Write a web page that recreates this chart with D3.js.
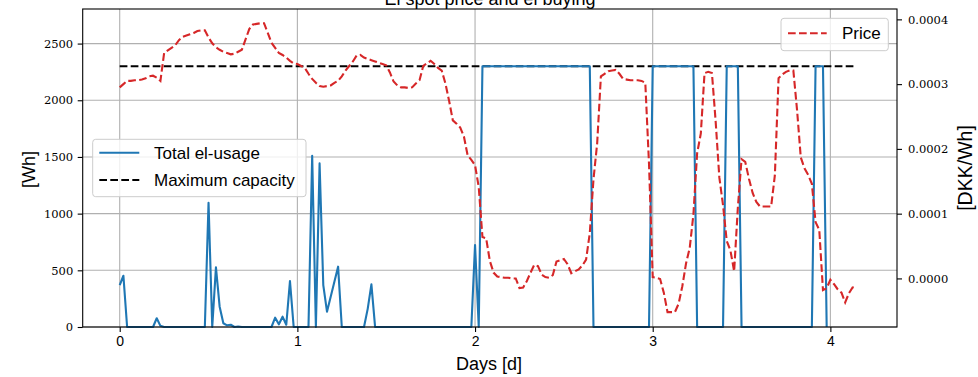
<!DOCTYPE html>
<html>
<head>
<meta charset="utf-8">
<script src="https://cdn.jsdelivr.net/npm/d3@7"></script>
<style>
  body { margin: 0; background: #fff; }
  svg { display: block; }
</style>
</head>
<body>
<div id="chart"></div>
<script>
// half-hour samples, x in days
const STEP_DAYS = 1 / 48;

// Total el-usage [Wh]
const usage = [
  370, 452, 0, 0, 0, 0, 0, 0, 0, 0,
  77, 10, 0, 0, 0, 0, 0, 0, 0, 0,
  0, 0, 0, 0, 1096, 0, 526, 179, 33, 15,
  20, 0, 5, 0, 0, 0, 0, 0, 0, 0,
  0, 0, 82, 24, 91, 20, 405, 0, 0, 0,
  0, 0, 1511, 0, 1443, 370, 135, 267, 400, 532,
  0, 0, 0, 0, 0, 0, 0, 160, 376, 0,
  0, 0, 0, 0, 0, 0, 0, 0, 0, 0,
  0, 0, 0, 0, 0, 0, 0, 0, 0, 0,
  0, 0, 0, 0, 0, 0, 723, 0, 2300, 2300,
  2300, 2300, 2300, 2300, 2300, 2300, 2300, 2300, 2300, 2300,
  2300, 2300, 2300, 2300, 2300, 2300, 2300, 2300, 2300, 2300,
  2300, 2300, 2300, 2300, 2300, 2300, 2300, 2300, 0, 0,
  0, 0, 0, 0, 0, 0, 0, 0, 0, 0,
  0, 0, 0, 0, 2300, 2300, 2300, 2300, 2300, 2300,
  2300, 2300, 2300, 2300, 2300, 2300, 0, 0, 0, 0,
  0, 0, 0, 0, 2300, 2300, 2300, 2300, 0, 0,
  0, 0, 0, 0, 0, 0, 0, 0, 0, 0,
  0, 0, 0, 0, 0, 0, 0, 0, 2300, 2300,
  2300, 0
];

// Spot price, in units of 1e-4 DKK/Wh
const price = [
  2.95, 3.00, 3.05, 3.05, 3.06, 3.06, 3.07, 3.09, 3.12, 3.13,
  3.10, 3.05, 3.48, 3.52, 3.56, 3.60, 3.68, 3.73, 3.75, 3.77,
  3.79, 3.82, 3.83, 3.83, 3.72, 3.63, 3.57, 3.53, 3.50, 3.48,
  3.46, 3.47, 3.50, 3.53, 3.69, 3.85, 3.92, 3.93, 3.94, 3.94,
  3.79, 3.64, 3.56, 3.48, 3.45, 3.41, 3.36, 3.32, 3.31, 3.28,
  3.25, 3.16, 3.08, 3.02, 2.97, 2.96, 2.97, 2.98, 3.02, 3.05,
  3.12, 3.21, 3.28, 3.35, 3.44, 3.45, 3.41, 3.39, 3.37, 3.35,
  3.33, 3.31, 3.29, 3.18, 3.04, 2.98, 2.95, 2.95, 2.94, 2.95,
  3.01, 3.06, 3.28, 3.32, 3.36, 3.31, 3.25, 3.21, 3.01, 2.74,
  2.44, 2.39, 2.33, 2.19, 1.90, 1.83, 1.75, 1.41, 0.64, 0.62,
  0.27, 0.09, 0.03, 0.02, 0.01, 0.01, 0.00, 0.00, -0.15, -0.14,
  -0.04, 0.09, 0.21, 0.19, 0.06, 0.02, 0.01, 0.05, 0.26, 0.28,
  0.30, 0.22, 0.08, 0.11, 0.14, 0.20, 0.29, 0.70, 1.53, 2.09,
  3.12, 3.16, 3.20, 3.21, 3.22, 3.16, 3.08, 3.07, 3.06, 3.06,
  3.06, 3.05, 3.02, 1.77, 0.02, 0.01, -0.01, -0.22, -0.52, -0.52,
  -0.52, -0.39, -0.12, 0.23, 0.47, 0.99, 1.93, 2.24, 3.17, 3.19,
  3.17, 2.43, 1.56, 1.13, 0.58, 0.43, 0.11, 1.09, 1.84, 1.80,
  1.54, 1.32, 1.18, 1.11, 1.11, 1.11, 1.11, 1.59, 3.09, 3.15,
  3.19, 3.21, 3.21, 2.60, 1.87, 1.70, 1.60, 1.46, 0.87, 0.75,
  -0.18, -0.15, -0.02, -0.09, -0.17, -0.22, -0.37, -0.23, -0.14, -0.13
];

const maxCapacity = 2300;

const dayTicks = [0, 1, 2, 3, 4];
const usageTicks = [0, 500, 1000, 1500, 2000, 2500];
const priceTicks = [0, 1, 2, 3, 4];   // x 1e-4

const SANS = '"Liberation Sans", Arial, sans-serif';
const SERIF = '"DejaVu Serif", serif';

const width = 978, height = 377;
const plot = { left: 82.7, right: 897, top: 9, bottom: 327 };

const svg = d3.select("#chart")
  .append("svg")
  .attr("width", width)
  .attr("height", height);

const x = d3.scaleLinear().domain([-0.2083, 4.375]).range([plot.left, plot.right]);
const yL = d3.scaleLinear().domain([0, 2805]).range([plot.bottom, plot.top]);
const yR = d3.scaleLinear().domain([-0.75, 4.16]).range([plot.bottom, plot.top]);

// grid (left axis + x)
const grid = svg.append("g").attr("stroke", "#b0b0b0").attr("stroke-width", 1.1);
grid.selectAll(".gx").data(dayTicks).enter().append("line")
  .attr("x1", d => x(d)).attr("x2", d => x(d))
  .attr("y1", plot.top).attr("y2", plot.bottom);
grid.selectAll(".gy").data(usageTicks).enter().append("line")
  .attr("x1", plot.left).attr("x2", plot.right)
  .attr("y1", d => yL(d)).attr("y2", d => yL(d));

// max capacity (drawn under the usage line)
const lastDay = (price.length - 1) * STEP_DAYS;
svg.append("line")
  .attr("x1", x(0)).attr("x2", x(lastDay))
  .attr("y1", yL(maxCapacity)).attr("y2", yL(maxCapacity))
  .attr("stroke", "#000").attr("stroke-width", 2.1)
  .attr("stroke-dasharray", "7.7,3.3");

// usage line
const usageLine = d3.line()
  .x((d, i) => x(i * STEP_DAYS))
  .y(d => yL(d));
svg.append("path")
  .datum(usage)
  .attr("d", usageLine)
  .attr("fill", "none")
  .attr("stroke", "#1f77b4")
  .attr("stroke-width", 2.1)
  .attr("stroke-linejoin", "round");

// legend 1
const lg1 = svg.append("g").style("font-family", SANS);
lg1.append("rect")
  .attr("x", 92.7).attr("y", 139.3).attr("width", 213.3).attr("height", 57.4)
  .attr("rx", 3).attr("fill", "#fff").attr("fill-opacity", 0.8)
  .attr("stroke", "#cccccc").attr("stroke-width", 1);
lg1.append("line").attr("x1", 99.3).attr("x2", 139.3).attr("y1", 152.7).attr("y2", 152.7)
  .attr("stroke", "#1f77b4").attr("stroke-width", 2.1);
lg1.append("line").attr("x1", 99.3).attr("x2", 139.3).attr("y1", 180).attr("y2", 180)
  .attr("stroke", "#000").attr("stroke-width", 2.1).attr("stroke-dasharray", "7.7,3.3");
lg1.append("text").attr("x", 154).attr("y", 152.7).attr("dy", "0.36em")
  .attr("font-size", 17).text("Total el-usage");
lg1.append("text").attr("x", 154).attr("y", 180).attr("dy", "0.36em")
  .attr("font-size", 17).text("Maximum capacity");

// price line (twin axis, on top)
const priceLine = d3.line()
  .x((d, i) => x(i * STEP_DAYS))
  .y(d => yR(d));
svg.append("path")
  .datum(price)
  .attr("d", priceLine)
  .attr("fill", "none")
  .attr("stroke", "#d62728")
  .attr("stroke-width", 2.1)
  .attr("stroke-dasharray", "7.7,3.3");

// legend 2
const lg2 = svg.append("g").style("font-family", SANS);
lg2.append("rect")
  .attr("x", 781).attr("y", 18.3).attr("width", 107.3).attr("height", 32.4)
  .attr("rx", 3).attr("fill", "#fff").attr("fill-opacity", 0.8)
  .attr("stroke", "#cccccc").attr("stroke-width", 1);
lg2.append("line").attr("x1", 788).attr("x2", 826.7).attr("y1", 33.3).attr("y2", 33.3)
  .attr("stroke", "#d62728").attr("stroke-width", 2.1).attr("stroke-dasharray", "7.7,3.3");
lg2.append("text").attr("x", 842).attr("y", 33.3).attr("dy", "0.36em")
  .attr("font-size", 17).text("Price");

// spines
svg.append("rect")
  .attr("x", plot.left).attr("y", plot.top)
  .attr("width", plot.right - plot.left).attr("height", plot.bottom - plot.top)
  .attr("fill", "none").attr("stroke", "#000").attr("stroke-width", 1.1);

// axes
const axL = svg.append("g").attr("transform", `translate(${plot.left},0)`)
  .call(d3.axisLeft(yL).tickValues(usageTicks).tickSize(5).tickPadding(4.5)
    .tickFormat(d3.format("d")));
const axR = svg.append("g").attr("transform", `translate(${plot.right},0)`)
  .call(d3.axisRight(yR).tickValues(priceTicks).tickSize(5).tickPadding(6)
    .tickFormat(d => (d * 1e-4).toFixed(4)));
const axB = svg.append("g").attr("transform", `translate(0,${plot.bottom})`)
  .call(d3.axisBottom(x).tickValues(dayTicks).tickSize(5).tickPadding(4.5)
    .tickFormat(d3.format("d")));

[axL, axR, axB].forEach(a => {
  a.select(".domain").remove();
  a.selectAll(".tick line").attr("stroke", "#000").attr("stroke-width", 1.1);
});
[axL, axR].forEach(a => a.selectAll(".tick text")
  .style("font-family", SERIF).style("font-size", "11.5px").attr("fill", "#000"));
axB.selectAll(".tick text")
  .style("font-family", SANS).style("font-size", "14px").attr("fill", "#000");

// labels
svg.append("text").style("font-family", SANS)
  .attr("x", 490).attr("y", 4.5).attr("text-anchor", "middle")
  .attr("font-size", 18).text("El spot price and el buying");
svg.append("text").style("font-family", SANS)
  .attr("x", 489).attr("y", 370).attr("text-anchor", "middle")
  .attr("font-size", 18).text("Days [d]");
svg.append("text").style("font-family", SANS)
  .attr("transform", "translate(34.5,169.5) rotate(-90)")
  .attr("text-anchor", "middle")
  .attr("font-size", 18).text("[Wh]");
svg.append("text").style("font-family", SANS)
  .attr("transform", "translate(972,168) rotate(-90)")
  .attr("text-anchor", "middle")
  .attr("font-size", 19.5).text("[DKK/Wh]");
</script>
</body>
</html>
